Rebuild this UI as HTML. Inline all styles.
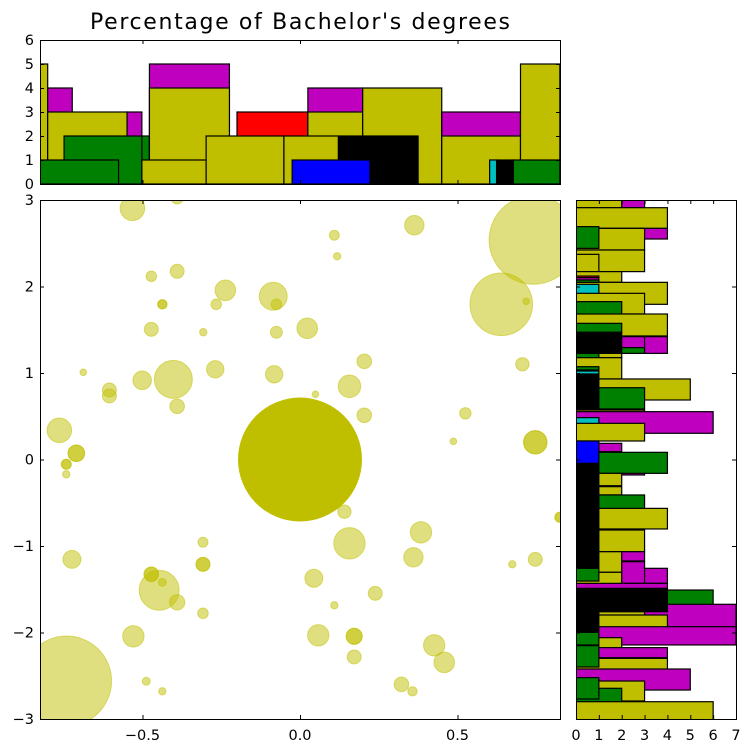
<!DOCTYPE html>
<html><head><meta charset="utf-8"><style>
html,body{margin:0;padding:0;background:#fff;}
svg{display:block;font-family:"DejaVu Sans","Liberation Sans",sans-serif;}
</style></head><body>
<svg id="chart" width="751" height="754" viewBox="0 0 751 754" xmlns="http://www.w3.org/2000/svg">
<defs>
<clipPath id="clipMain"><rect x="40" y="200" width="520" height="519"/></clipPath>
<clipPath id="clipTop"><rect x="40" y="40" width="520" height="144"/></clipPath>
<clipPath id="clipRight"><rect x="576" y="200" width="160" height="519"/></clipPath>
</defs>
<text x="300" y="29" text-anchor="middle" font-size="22" textLength="420">Percentage of Bachelor's degrees</text>
<g id="mainMarks" clip-path="url(#clipMain)"></g>
<g id="topMarks" clip-path="url(#clipTop)"></g>
<g id="rightMarks" clip-path="url(#clipRight)"></g>
<g id="axes"></g>
</svg>
<script>
// Scatter data
const scatterX = [-0.532,-0.390,-0.472,-0.390,-0.237,-0.266,-0.437,-0.437,-0.085,-0.075,-0.472,-0.307,-0.075,0.023,-0.688,-0.605,-0.605,-0.501,-0.402,-0.269,-0.390,-0.082,-0.764,-0.710,-0.710,
0.363,0.109,0.118,0.741,0.639,0.718,0.204,0.157,0.049,0.204,0.706,0.525,0.487,0.747,0.747,
-0.742,-0.742,-0.742,-0.308,-0.724,-0.308,-0.308,-0.472,-0.472,-0.437,-0.447,-0.390,-0.308,-0.529,-0.741,-0.488,-0.437,
0.141,0.384,0.157,0.360,0.674,0.747,0.825,0.825,0.044,0.239,0.109,0.058,0.172,0.172,0.172,0.426,0.458,0.322,0.357];
const scatterY = [2.904,3.023,2.118,2.176,1.956,1.794,1.794,1.794,1.887,1.794,1.505,1.471,1.471,1.517,1.008,0.803,0.734,0.916,0.927,1.043,0.615,0.985,0.338,0.072,0.072,
2.708,2.592,2.349,2.538,1.794,1.829,1.135,0.846,0.754,0.511,1.101,0.534,0.210,0.199,0.199,
-0.055,-0.055,-0.171,-0.957,-1.154,-1.212,-1.212,-1.327,-1.327,-1.420,-1.512,-1.651,-1.778,-2.044,-2.561,-2.564,-2.680,
-0.603,-0.842,-0.969,-1.131,-1.212,-1.154,-0.668,-0.668,-1.373,-1.547,-1.686,-2.032,-2.044,-2.044,-2.283,-2.148,-2.345,-2.599,-2.680];
const scatterSize = [12.3,6,5.3,7,10.3,5.3,4.7,4.7,14,5.3,7,3.7,6,10.3,3.3,7,7,9.3,19,8.7,7.3,8.7,12.3,8.3,8.3,
9.7,5,3.7,44.3,31.3,3.3,7.3,11.3,3.3,7.3,6.7,5.7,3.3,11.7,11.7,
5,5,3.7,5,9,7,7,7.3,7.3,4,20,7.7,5.3,10.7,45,4,3.7,
6.7,10.7,15.7,9.7,3.7,7,5,5,9,7,3.7,10.7,8,8,7,10.7,10.3,7.3,4.7];
const centerPoint = [0, 0, 62];

// Top histogram: bin start, bin end, count, color
const topX0 = [-0.825,-0.801,-0.801,-0.549,-0.502,-0.749,-0.825,-0.478,-0.478,-0.502,-0.200,-0.298,0.025,0.025,-0.051,0.199,0.122,-0.025,0.450,0.450,0.700,0.677,0.624,0.602];
const topX1 = [-0.801,-0.723,-0.549,-0.502,-0.478,-0.502,-0.576,-0.224,-0.224,-0.298,0.025,-0.051,0.199,0.199,0.122,0.450,0.375,0.222,0.700,0.700,0.825,0.825,0.677,0.624];
const topCount = [5,4,3,3,2,2,1,5,4,1,3,2,4,3,2,4,2,1,3,2,5,1,1,1];
const topColor = ['y','m','y','m','g','g','g','m','y','y','r','y','m','y','y','y','k','b','m','y','y','g','k','c'];

// Right histogram: bin top, bin bottom, count, color (drawing order)
const rightY0 = [3.0,3.0,2.911,2.672,2.672,2.692,2.422,2.372,2.172,2.121,2.102,2.075,2.048,2.025,1.921,1.825,1.682,1.574,1.420,1.420,1.293,1.470,1.227,1.227,1.177,1.073,1.023,0.931,0.830,0.988,0.572,0.553,0.484,0.418,0.187,0.052,0.083,
-0.160,-0.314,-0.410,-0.565,-0.815,-1.258,-1.181,-1.066,-1.066,-1.304,-1.432,-1.509,-1.674,-1.759,-1.798,-1.933,-2.060,-2.175,-2.299,-2.422,-2.561,-2.645,-2.800,
0.21,-1.489,-1.759,0.214,-1.258,-1.998,-2.152,-2.522];
const rightY1 = [2.911,2.911,2.672,2.549,2.422,2.441,2.172,2.114,2.048,2.102,2.075,2.025,1.794,1.775,1.682,1.574,1.428,1.470,1.227,1.293,1.227,1.227,1.177,1.073,0.931,1.035,0.988,0.688,0.584,0.484,0.437,0.303,0.283,0.214,0.091,-0.179,-0.160,
-0.303,-0.410,-0.661,-0.803,-1.066,-1.432,-1.432,-1.173,-1.304,-1.489,-1.509,-1.682,-1.933,-1.798,-2.060,-2.144,-2.291,-2.291,-2.549,-2.665,-2.792,-2.896,-3.012,
-1.258,-1.759,-1.990,-0.044,-1.405,-2.144,-2.399,-2.769];
const rightCount = [3,2,4,4,3,1,3,1,2,1,1,1,4,1,3,2,4,2,4,3,3,2,2,1,2,1,1,5,3,1,3,6,1,3,2,3,4,
2,2,3,4,3,4,3,3,2,2,4,6,7,3,4,7,2,4,4,5,3,2,6,
1,4,1,1,1,1,1,1];
const rightColor = ['m','y','y','m','y','g','y','y','y','r','m','g','y','c','y','g','y','g','m','m','g','k','y','g','y','g','c','y','g','k','y','m','c','y','m','m','g',
'y','y','g','y','y','m','m','m','y','y','m','g','m','y','y','m','y','m','y','m','y','g','y',
'k','k','k','b','g','g','g','g'];

const colorMap = {y:'#bfbf00', m:'#bf00bf', g:'#008000', r:'#ff0000', b:'#0000ff', k:'#000000', c:'#00bfbf'};
const NS = 'http://www.w3.org/2000/svg';

// axis functions
const xMain = v => 300 + 315 * v;
const yMain = v => 459.5 - 86.5 * v;
const yTop = v => 184 - 24 * v;
const xRight = v => 576 + 22.857 * v;

function mk(tag, attrs, parent) {
  const e = document.createElementNS(NS, tag);
  for (const k in attrs) e.setAttribute(k, attrs[k]);
  parent.appendChild(e);
  return e;
}

const mainG = document.getElementById('mainMarks');
for (let i = 0; i < scatterX.length; i++) {
  const c = mk('circle', {cx: xMain(scatterX[i]), cy: yMain(scatterY[i]), r: scatterSize[i], fill: '#bfbf00', 'fill-opacity': 0.5, stroke: '#bfbf00', 'stroke-opacity': 0.5, 'stroke-width': 1}, mainG);
  
  
}
{
  const c = mk('circle', {cx: xMain(centerPoint[0]), cy: yMain(centerPoint[1]), r: centerPoint[2], fill: '#bfbf00'}, mainG);
  
  
}

const topG = document.getElementById('topMarks');
for (let i = 0; i < topX0.length; i++) {
  const x0 = xMain(topX0[i]), x1 = xMain(topX1[i]);
  const r = mk('rect', {x: x0, y: yTop(topCount[i]), width: x1 - x0, height: yTop(0) - yTop(topCount[i]), fill: colorMap[topColor[i]], stroke: '#000', 'stroke-width': 1.2}, topG);
  
  
}

const rightG = document.getElementById('rightMarks');
for (let i = 0; i < rightY0.length; i++) {
  const y0 = yMain(rightY0[i]), y1 = yMain(rightY1[i]);
  const r = mk('rect', {x: xRight(0), y: y0, width: xRight(rightCount[i]) - xRight(0), height: y1 - y0, fill: colorMap[rightColor[i]], stroke: '#000', 'stroke-width': 1.2}, rightG);
  
  
}

// axes
const ax = document.getElementById('axes');
const xTicks = [-0.5, 0, 0.5];
const xTickLabels = ['\u22120.5', '0.0', '0.5'];
const yTicks = [-3, -2, -1, 0, 1, 2, 3];
const yTickLabels = ['\u22123', '\u22122', '\u22121', '0', '1', '2', '3'];
const topYTicks = [0, 1, 2, 3, 4, 5, 6];
const rightXTicks = [0, 1, 2, 3, 4, 5, 6, 7];

function frame(x, y, w, h, name) {
  const r = mk('rect', {x: x, y: y, width: w, height: h, fill: 'none', stroke: '#000', 'stroke-width': 1}, ax);
  
  
}
function tick(x1, y1, x2, y2) { mk('line', {x1: x1, y1: y1, x2: x2, y2: y2, stroke: '#000', 'stroke-width': 1}, ax); }
function label(x, y, s, anchor, name) {
  const t = mk('text', {x: x, y: y, 'font-size': 14.5, 'text-anchor': anchor}, ax);
  t.textContent = s;
  
  
}

frame(40.5, 200.5, 520, 519, 'main-axes-frame');
frame(40.5, 40.5, 520, 144, 'top-axes-frame');
frame(576.5, 200.5, 160, 519, 'right-axes-frame');

xTicks.forEach((v, i) => {
  const x = xMain(v) + 0.5;
  tick(x, 719, x, 715); tick(x, 200, x, 204);
  tick(x, 184, x, 180); tick(x, 40, x, 44);
  label(xMain(v), 740, xTickLabels[i], 'middle', 'x-tick-label');
});
yTicks.forEach((v, i) => {
  const y = yMain(v) + 0.5;
  tick(40, y, 44, y); tick(560, y, 556, y);
  tick(576, y, 580, y); tick(736, y, 732, y);
  label(34, yMain(v) + 5, yTickLabels[i], 'end', 'y-tick-label');
});
topYTicks.forEach(v => {
  const y = yTop(v) + 0.5;
  tick(40, y, 44, y); tick(560, y, 556, y);
  label(34, yTop(v) + 5, String(v), 'end', 'top-y-tick-label');
});
rightXTicks.forEach(v => {
  const x = xRight(v) + 0.5;
  tick(x, 719, x, 715); tick(x, 200, x, 204);
  label(xRight(v), 740, String(v), 'middle', 'right-x-tick-label');
});
</script>
</body></html>
